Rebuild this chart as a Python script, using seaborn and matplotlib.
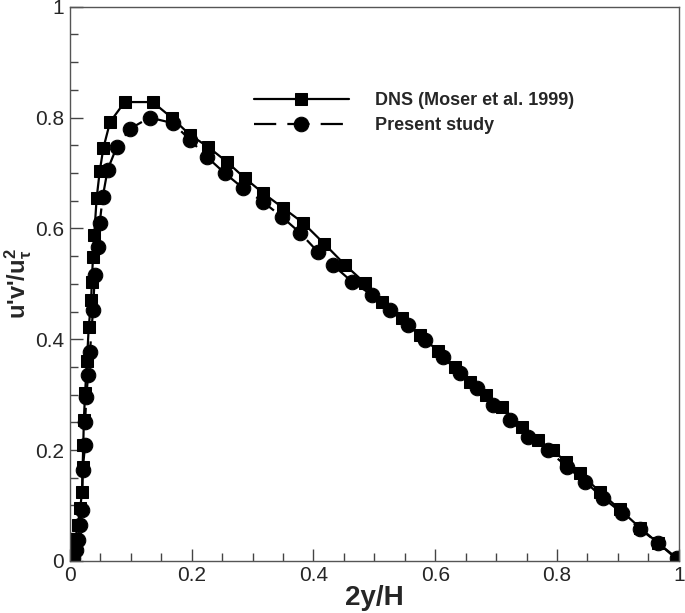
import numpy as np
import pandas as pd
import matplotlib
matplotlib.use("Agg")
import matplotlib.pyplot as plt
import seaborn as sns
from matplotlib.ticker import MultipleLocator, FuncFormatter

# DNS (Moser et al. 1999)
dns_x = [0.000, 0.005, 0.009, 0.013, 0.017, 0.020, 0.021, 0.022, 0.023, 0.025,
         0.028, 0.031, 0.035, 0.036, 0.038, 0.040, 0.044, 0.049, 0.055, 0.066,
         0.090, 0.136, 0.167, 0.197, 0.227, 0.258, 0.287, 0.317, 0.350, 0.383,
         0.418, 0.452, 0.484, 0.512, 0.545, 0.575, 0.605, 0.632, 0.657, 0.684,
         0.709, 0.742, 0.768, 0.793, 0.815, 0.837, 0.870, 0.903, 0.936, 0.965,
         1.000]
dns_y = [0.000, 0.015, 0.040, 0.065, 0.095, 0.125, 0.170, 0.210, 0.255, 0.303,
         0.360, 0.422, 0.470, 0.504, 0.549, 0.588, 0.655, 0.703, 0.745, 0.792,
         0.828, 0.828, 0.800, 0.769, 0.747, 0.720, 0.691, 0.664, 0.637, 0.610,
         0.572, 0.534, 0.502, 0.468, 0.439, 0.408, 0.378, 0.350, 0.323, 0.300,
         0.278, 0.242, 0.218, 0.200, 0.178, 0.159, 0.125, 0.093, 0.060, 0.033,
         0.000]

# Present study
les_x = [0.000, 0.005, 0.010, 0.013, 0.016, 0.020, 0.021, 0.025, 0.025, 0.027,
         0.030, 0.033, 0.038, 0.041, 0.046, 0.049, 0.054, 0.062, 0.077, 0.099,
         0.131, 0.169, 0.197, 0.225, 0.254, 0.284, 0.317, 0.348, 0.378, 0.407,
         0.432, 0.463, 0.496, 0.525, 0.555, 0.583, 0.612, 0.640, 0.668, 0.695,
         0.722, 0.752, 0.785, 0.816, 0.846, 0.875, 0.906, 0.936, 0.966, 0.997]
les_y = [0.000, 0.005, 0.020, 0.038, 0.065, 0.092, 0.164, 0.209, 0.251, 0.296,
         0.336, 0.377, 0.453, 0.516, 0.567, 0.610, 0.657, 0.706, 0.747, 0.780,
         0.800, 0.790, 0.760, 0.729, 0.700, 0.673, 0.648, 0.621, 0.592, 0.558,
         0.534, 0.504, 0.480, 0.453, 0.426, 0.399, 0.368, 0.339, 0.312, 0.282,
         0.255, 0.224, 0.200, 0.170, 0.143, 0.114, 0.087, 0.058, 0.032, 0.005]

dns = pd.DataFrame({"x": dns_x, "y": dns_y})
les = pd.DataFrame({"x": les_x, "y": les_y})

sns.set_style("ticks")
plt.rcParams["font.family"] = ["Liberation Sans Narrow", "Liberation Sans", "DejaVu Sans"]
plt.rcParams["mathtext.fontset"] = "custom"
plt.rcParams["mathtext.rm"] = "Liberation Sans:bold"
plt.rcParams["mathtext.bf"] = "Liberation Sans:bold"
plt.rcParams["mathtext.it"] = "Liberation Sans:bold"

fig = plt.figure(figsize=(6.85, 6.13), dpi=100)
ax = fig.add_axes([0.102, 0.085, 0.889, 0.904])

sns.lineplot(data=dns, x="x", y="y", ax=ax, sort=False, estimator=None,
             color="black", lw=1.6, marker="s", markersize=9,
             markeredgecolor="black", label="DNS (Moser et al. 1999)")
sns.lineplot(data=les, x="x", y="y", ax=ax, sort=False, estimator=None,
             color="black", lw=1.6, marker="o", markersize=10.5,
             markeredgecolor="black", dashes=False, label="Present study")
ax.lines[1].set_dashes([10, 5])

ax.set_xlim(0, 1)
ax.set_ylim(0, 1)
ax.xaxis.set_major_locator(MultipleLocator(0.2))
ax.xaxis.set_minor_locator(MultipleLocator(0.05))
ax.yaxis.set_major_locator(MultipleLocator(0.2))
ax.yaxis.set_minor_locator(MultipleLocator(0.05))
fmt = FuncFormatter(lambda v, p: "%g" % round(v, 2))
ax.xaxis.set_major_formatter(fmt)
ax.yaxis.set_major_formatter(fmt)
ax.tick_params(which="major", direction="in", length=9, width=1, labelsize=15,
               color="#444444", pad=4)
ax.tick_params(which="minor", direction="in", length=5.5, width=1, color="#444444")
for s in ax.spines.values():
    s.set_color("#555555")
    s.set_linewidth(1)

ax.set_xlabel("2y/H", fontsize=20, fontweight="bold", labelpad=0)
ax.set_ylabel(r"u'v'/u$_{\tau}^{2}$", fontsize=17, fontweight="bold",
              family="Liberation Sans", labelpad=1)

leg = ax.legend(loc="upper left", bbox_to_anchor=(0.275, 0.875), frameon=False,
                prop={"family": "Liberation Sans", "weight": "bold", "size": 13},
                handlelength=5.3, handletextpad=1.4, labelspacing=0.45)

fig.savefig("out.png", dpi=100)
